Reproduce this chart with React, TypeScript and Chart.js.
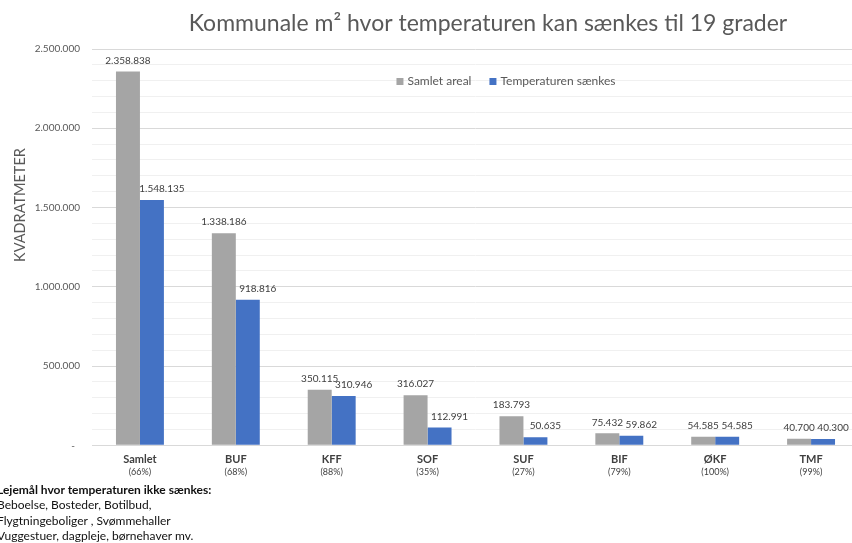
import React, { useEffect, useRef } from "react";
import { Chart, registerables } from "chart.js";

Chart.register(...registerables);

const categories = ["Samlet", "BUF", "KFF", "SOF", "SUF", "BIF", "ØKF", "TMF"];
const percentLabels = ["(66%)", "(68%)", "(88%)", "(35%)", "(27%)", "(79%)", "(100%)", "(99%)"];
const totalArea = [2358838, 1338186, 350115, 316027, 183793, 75432, 54585, 40700];
const loweredArea = [1548135, 918816, 310946, 112991, 50635, 59862, 54585, 40300];
const seriesNames = ["Samlet areal", "Temperaturen sænkes"];
const chartTitle = "Kommunale m² hvor temperaturen kan sænkes til 19 grader";
const yAxisTitle = "KVADRATMETER";
const noteLines = [
  "Lejemål hvor temperaturen ikke sænkes:",
  "Beboelse, Bosteder, Botilbud,",
  "Flygtningeboliger , Svømmehaller",
  "Vuggestuer, dagpleje, børnehaver mv.",
];

const GREY = "#A5A5A5";
const BLUE = "#4472C4";
const FONT = "Lato, 'Open Sans', sans-serif";

function fmt(n: number): string {
  return Math.round(n).toString().replace(/\B(?=(\d{3})+(?!\d))/g, ".");
}

const overlayPlugin = {
  id: "overlay",
  afterDraw(chart: any) {
    const ctx = chart.ctx;
    const area = chart.chartArea;
    ctx.save();

    // Title
    ctx.fillStyle = "#595959";
    ctx.font = `23px ${FONT}`;
    ctx.textAlign = "center";
    ctx.textBaseline = "middle";
    ctx.fillText(chartTitle, 488, 24);

    // Y axis title
    ctx.save();
    ctx.translate(20, 205);
    ctx.rotate(-Math.PI / 2);
    ctx.font = `14.5px ${FONT}`;
    ctx.fillStyle = "#595959";
    ctx.textAlign = "center";
    ctx.textBaseline = "middle";
    ctx.fillText(yAxisTitle, 0, 0);
    ctx.restore();

    // Legend
    ctx.font = `12px ${FONT}`;
    ctx.textAlign = "left";
    ctx.textBaseline = "middle";
    const colors = [GREY, BLUE];
    const widths = seriesNames.map((s) => ctx.measureText(s).width);
    const box = 7, gap = 4, itemGap = 18;
    const total = widths.reduce((a, w) => a + box + gap + w, 0) + itemGap;
    let lx = 506 - total / 2;
    const ly = 81.5;
    seriesNames.forEach((s, i) => {
      ctx.fillStyle = colors[i];
      ctx.fillRect(lx, ly - box / 2, box, box);
      ctx.fillStyle = "#595959";
      ctx.fillText(s, lx + box + gap, ly);
      lx += box + gap + widths[i] + itemGap;
    });

    // Data labels
    ctx.font = `10px ${FONT}`;
    ctx.fillStyle = "#404040";
    ctx.textAlign = "center";
    ctx.textBaseline = "middle";
    chart.data.datasets.forEach((ds: any, di: number) => {
      const meta = chart.getDatasetMeta(di);
      meta.data.forEach((bar: any, i: number) => {
        const shift = di === 1 ? 10 : 0;
        ctx.fillText(fmt(ds.data[i]), bar.x + shift, bar.y - 11);
      });
    });

    // X labels (two lines)
    const xs = chart.scales.x;
    categories.forEach((c, i) => {
      const x = xs.getPixelForValue(i);
      ctx.fillStyle = "#404040";
      ctx.font = `bold 11px ${FONT}`;
      ctx.fillText(c, x, area.bottom + 14);
      ctx.font = `9px ${FONT}`;
      ctx.fillText(percentLabels[i], x, area.bottom + 27);
    });

    ctx.restore();
  },
};

export default function App() {
  const ref = useRef<HTMLCanvasElement>(null);

  useEffect(() => {
    if (!ref.current) return;
    const chart = new Chart(ref.current, {
      type: "bar",
      data: {
        labels: categories,
        datasets: [
          { label: seriesNames[0], data: totalArea, backgroundColor: GREY },
          { label: seriesNames[1], data: loweredArea, backgroundColor: BLUE },
        ],
      },
      options: {
        responsive: false,
        animation: false,
        devicePixelRatio: 1,
        layout: { padding: { top: 49, right: 1, left: 0, bottom: 0 } },
        datasets: { bar: { categoryPercentage: 0.5, barPercentage: 1 } },
        plugins: {
          legend: { display: false },
          title: { display: false },
          tooltip: { enabled: false },
        },
        scales: {
          x: {
            grid: { display: false },
            border: { display: true, color: "#D9D9D9", width: 1 },
            ticks: { display: false },
            afterFit: (s: any) => { s.height = 97.7; },
          },
          y: {
            min: 0,
            max: 2500000,
            border: { display: false },
            grid: {
              drawTicks: false,
              color: (c: any) => (c.tick && c.tick.value % 500000 === 0 ? "#D9D9D9" : "#F0F0F0"),
            },
            ticks: {
              stepSize: 100000,
              autoSkip: false,
              padding: 12,
              color: "#595959",
              font: { family: FONT, size: 10 },
              callback: (v: any) => {
                const n = Number(v);
                if (n % 500000 !== 0) return "";
                return n === 0 ? "-  " : fmt(n);
              },
            },
            afterFit: (s: any) => { s.width = 92; },
          },
        },
      },
      plugins: [overlayPlugin],
    });
    return () => chart.destroy();
  }, []);

  return (
    <div style={{ position: "absolute", left: 0, top: 0, width: 852, height: 543, overflow: "hidden", background: "#fff" }}>
      <canvas ref={ref} width={860} height={543} style={{ position: "absolute", left: 0, top: 0 }} />
      <div
        style={{
          position: "absolute",
          left: -3,
          top: 482,
          fontFamily: FONT,
          fontSize: 12,
          lineHeight: "15.3px",
          color: "#111",
          whiteSpace: "nowrap",
        }}
      >
        {noteLines.map((l, i) => (
          <div key={i} style={{ fontWeight: i === 0 ? 700 : 400 }}>{l}</div>
        ))}
      </div>
    </div>
  );
}
